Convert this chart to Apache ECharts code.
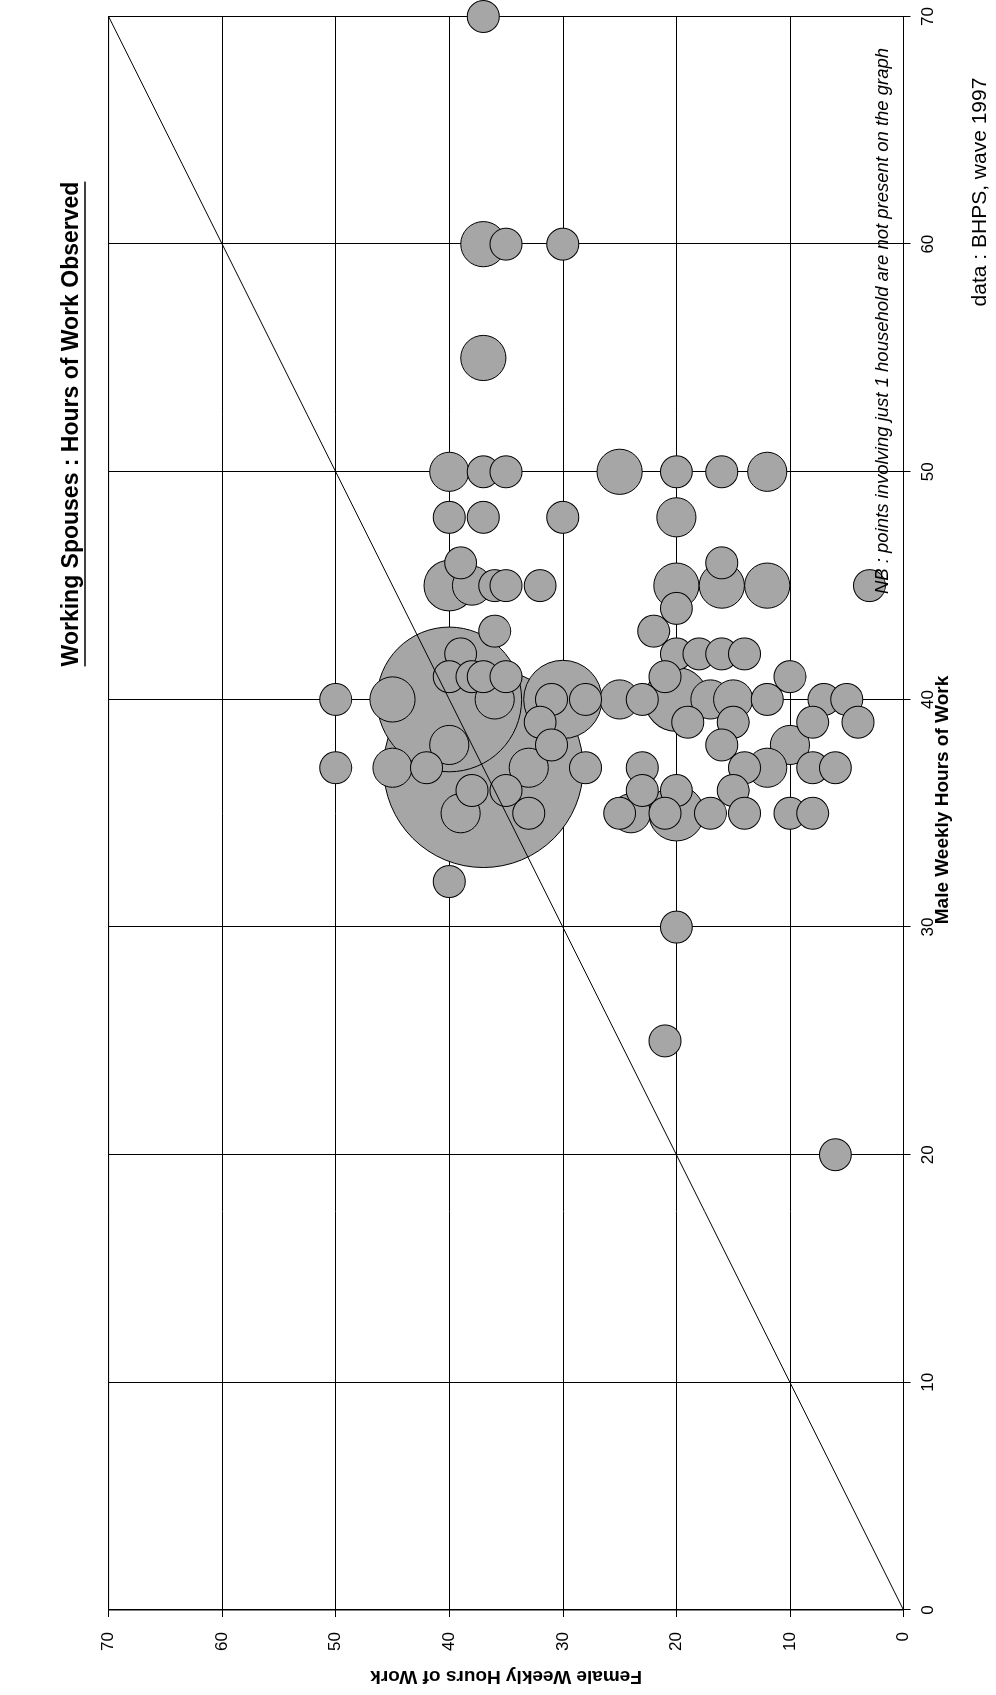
<!DOCTYPE html>
<html><head><meta charset="utf-8">
<script src="https://cdn.jsdelivr.net/npm/echarts@6/dist/echarts.min.js"></script>
<style>
html,body{margin:0;padding:0;background:#fff;overflow:hidden;width:996px;height:1695px;}
#wrap{position:absolute;left:0;top:0;width:1695px;height:996px;transform-origin:0 0;transform:translate(0px,1695px) rotate(-90deg);}
#chart{width:1695px;height:996px;}
</style></head><body>
<div id="wrap"><div id="chart"></div></div>
<script>
// Female weekly hours (one entry per bubble)
const femaleHours = [37,37,35,30,37, 40,37,35,25,20,16,12, 40,37,30,20, 39,16,
  40,38,36,35,32,20,16,12,3, 20, 36,22, 39,20,18,16,14, 40,38,37,35,21,10,
  50,45,40,36,31,30,28,25,23,20,17,15,12,7,5, 32,19,15,8,4, 40,31,16,10,
  50,45,42,33,28,23,14,12,8,6, 38,35,23,20,15, 37, 39,33,25,21,17,14,10,8,20,24,
  40, 20, 21, 6];
// Male weekly hours
const maleHours = [70,60,60,60,55, 50,50,50,50,50,50,50, 48,48,48,48, 46,46,
  45,45,45,45,45,45,45,45,45, 44, 43,43, 42,42,42,42,42, 41,41,41,41,41,41,
  40,40,40,40,40,40,40,40,40,40,40,40,40,40,40, 39,39,39,39,39, 38,38,38,38,
  37,37,37,37,37,37,37,37,37,37, 36,36,36,36,36, 37, 35,35,35,35,35,35,35,35,35,35,
  32, 30, 25, 20];
// Number of households at each point (bubble size)
const households = [2,4,2,2,4, 3,2,2,4,2,2,3, 2,2,2,3, 2,2,
  5,3,2,2,2,4,4,4,2, 2, 2,2, 2,2,2,2,2, 2,2,2,2,2,2,
  2,4,41,3,2,12,2,3,2,8,3,3,2,2,2, 2,2,2,2,2, 3,2,2,3,
  2,3,2,3,2,2,2,3,2,2, 2,2,2,2,2, 78, 3,2,2,2,2,2,2,2,6,3,
  2, 2, 2, 2];
const axisTicks = [0,10,20,30,40,50,60,70];
const diagonal = [[0,0],[70,70]];

const FONT = '"Liberation Sans", Arial, sans-serif';
const pts = femaleHours.map((f,i)=>[maleHours[i], f, households[i]]);
pts.sort((a,b)=>b[2]-a[2]);

const chart = echarts.init(document.getElementById('chart'), null, {renderer:'canvas'});

const titleText = 'Working Spouses : Hours of Work Observed';
const titleFont = 'bold 23px ' + FONT;
const cv = document.createElement('canvas').getContext('2d');
cv.font = titleFont;
const tw = cv.measureText(titleText).width;
const tCx = 1271, tCy = 72;

chart.setOption({
  animation:false,
  backgroundColor:'#fff',
  grid:{left:85, right:16.5, top:108.6, bottom:92.5, show:true, borderColor:'#000', borderWidth:1, backgroundColor:'#fff'},
  xAxis:{type:'value', min:axisTicks[0], max:axisTicks[axisTicks.length-1], interval:10,
    axisLine:{onZero:false, lineStyle:{color:'#000', width:1}},
    axisTick:{show:true, inside:false, length:7, lineStyle:{color:'#000'}},
    axisLabel:{color:'#000', fontFamily:FONT, fontSize:17, margin:16},
    splitLine:{show:true, lineStyle:{color:'#000', width:1}}},
  yAxis:{type:'value', min:axisTicks[0], max:axisTicks[axisTicks.length-1], interval:10,
    name:'Female Weekly Hours of Work', nameLocation:'middle', nameGap:57, nameRotate:90,
    nameTextStyle:{fontFamily:FONT, fontWeight:'bold', fontSize:19, color:'#000'},
    axisLine:{onZero:false, lineStyle:{color:'#000', width:1}},
    axisTick:{show:true, inside:false, length:7, lineStyle:{color:'#000'}},
    axisLabel:{color:'#000', fontFamily:FONT, fontSize:17, margin:22},
    splitLine:{show:true, lineStyle:{color:'#000', width:1}}},
  series:[
    {type:'scatter', data:pts, z:2,
     symbolSize:function(v){ return 22.6*Math.sqrt(v[2]); },
     itemStyle:{color:'#a6a6a6', borderColor:'#000', borderWidth:1, opacity:1}},
    {type:'line', data:diagonal, z:3, symbol:'none', silent:true,
     lineStyle:{color:'#000', width:1}}
  ],
  graphic:[
    {type:'text', x:tCx, y:tCy, style:{text:titleText, font:titleFont, align:'center', verticalAlign:'middle', fill:'#000'}},
    {type:'line', shape:{x1:tCx-tw/2, y1:tCy+13, x2:tCx+tw/2, y2:tCy+13}, style:{stroke:'#000', lineWidth:1.5}},
    {type:'text', x:895, y:943, style:{text:'Male Weekly Hours of Work', font:'bold 19px '+FONT, align:'center', verticalAlign:'middle', fill:'#000'}},
    {type:'text', x:1503, y:980, style:{text:'data : BHPS, wave 1997', font:'21px '+FONT, align:'center', verticalAlign:'middle', fill:'#000'}},
    {type:'text', x:1374, y:883, z:10, style:{text:'NB : points involving just 1 household are not present on the graph', font:'italic 18.5px '+FONT, align:'center', verticalAlign:'middle', fill:'#000'}}
  ]
});
</script>
</body></html>
